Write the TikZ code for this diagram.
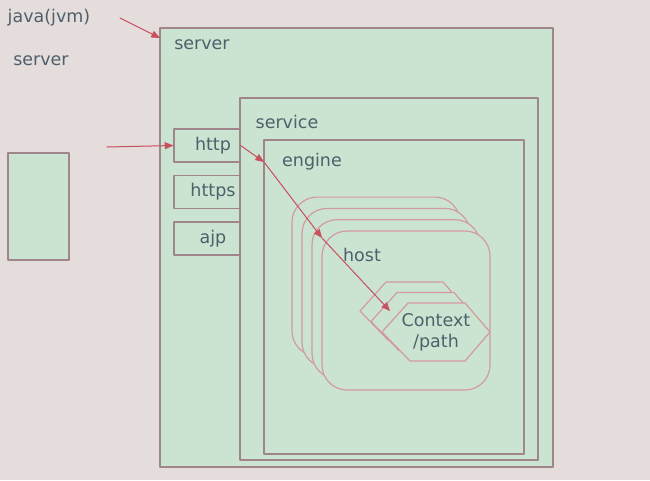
\documentclass[tikz,border=0pt]{standalone}
\usepackage{fontspec}
\setmainfont{DejaVu Sans}
\usetikzlibrary{arrows}
\definecolor{bg}{HTML}{E4DDDC}
\definecolor{boxfill}{HTML}{CBE4D2}
\definecolor{boxline}{HTML}{A0868B}
\definecolor{hostline}{HTML}{D39AA0}
\definecolor{arrcol}{HTML}{C8505F}
\definecolor{txtcol}{HTML}{4F5F6B}
\begin{document}
\begin{tikzpicture}[line cap=round,line join=round,>=triangle 45,x=1pt,y=-1pt,
    box/.style={draw=boxline,fill=boxfill,line width=1.2pt,inner sep=0pt},
    hostbox/.style={box,draw=hostline,rounded corners=25pt,minimum width=168pt,minimum height=159pt},
    ctxbox/.style={box,draw=hostline},
    txt/.style={text=txtcol,font=\fontsize{17.5}{21}\selectfont},
    arr/.style={->,draw=arrcol,fill=arrcol,line width=1pt}]
        % background
        \fill[bg] (0,0) rectangle (650,480);
        \node[txt] (java) at (49,18) {java(jvm)};
        \node[txt] (lserver) at (41,61) {server};
        \node[box,minimum width=61pt,minimum height=107pt] (jvm) at (38.5,206.5) {};
        % server, service, engine
        \node[box,minimum width=393pt,minimum height=439pt] (server) at (356.5,247.5) {};
        \node[txt] (serverlbl) at (202,45) {server};
        \node[box,minimum width=298pt,minimum height=362pt] (service) at (389,279) {};
        \node[txt] (servicelbl) at (287,122) {service};
        \node[box,minimum width=260pt,minimum height=314pt] (engine) at (394,297) {};
        \node[txt] (enginelbl) at (312,162) {engine};
        % connectors
        \foreach \name/\y in {http/145.5,https/192,ajp/238.5}
        \node[box,minimum width=66pt,minimum height=33pt,label={[txt,xshift=6pt]center:\name}] (\name) at (207,\y) {};
        % hosts
        \foreach \i in {3,2,1}
        \node[hostbox] (host\i) at (406-10*\i,310.5-11.3*\i) {};
        \node[hostbox] (host) at (406,310.5) {};
        \node[txt] (hostlbl) at (362,255) {host};
        % context
        \foreach \i in {2,1,0}
        \draw[ctxbox,shift={(-11*\i,-10.5*\i)}] (382,332) -- (408,303) -- (465,303) -- (490,332) -- (465,361) -- (410,361) -- cycle;
        \node[txt,align=center] (ctx) at (436,332) {Context\\/path};
        % request path
        \coordinate (jtail) at (120,18);
        \coordinate (jtip) at (160,38);
        \draw[arr] (jtail) -- (jtip);
        \coordinate (rtail) at (107,147);
        \draw[arr] (rtail) -- (http.west);
        \coordinate (e1) at (264,162);
        \coordinate (h1) at (322,238);
        \coordinate (c1) at (390,311);
        \draw[arr] (http.east) -- (e1);
        \draw[arr] (e1) -- (h1);
        \draw[arr] (h1) -- (c1);
\end{tikzpicture}
\end{document}
